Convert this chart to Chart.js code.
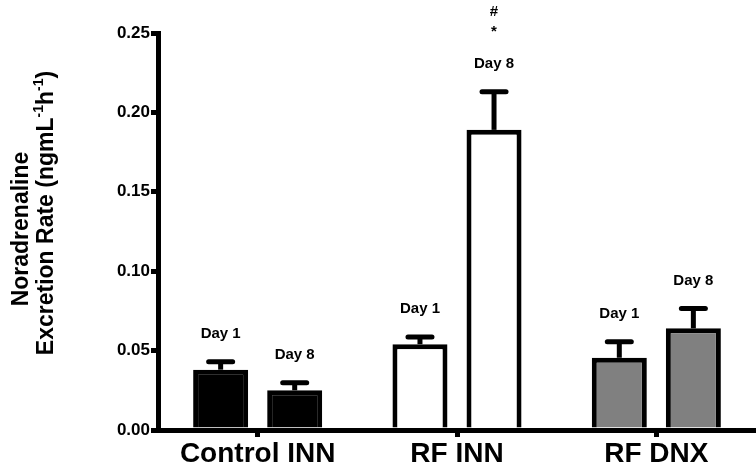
<!DOCTYPE html>
<html>
<head>
<meta charset="utf-8">
<script src="https://cdn.jsdelivr.net/npm/chart.js@4"></script>
<style>
  html, body { margin: 0; padding: 0; background: #fff; }
  #wrap { width: 756px; height: 473px; position: relative; }
</style>
</head>
<body>
<div id="wrap"><canvas id="noraChart"></canvas></div>
<script>
const groups = ['Control INN', 'RF INN', 'RF DNX'];
const day1Values = [0.038, 0.054, 0.0455];
const day1Errors = [0.005, 0.0045, 0.010];
const day8Values = [0.025, 0.189, 0.064];
const day8Errors = [0.0047, 0.024, 0.0125];
const groupColors = ['#000000', '#ffffff', '#808080'];
const day8Marks = [[], ['#', '*'], []];
const yTicks = [0, 0.05, 0.10, 0.15, 0.20, 0.25];

const FONT = '"Liberation Sans", Arial, Helvetica, sans-serif';

// error bars + "Day n" labels + significance marks
const errorBarPlugin = {
  id: 'errorBars',
  afterDatasetsDraw(chart) {
    const ctx = chart.ctx;
    const y = chart.scales.y;
    const errs = [day1Errors, day8Errors];
    const names = ['Day 1', 'Day 8'];
    ctx.save();
    chart.data.datasets.forEach((ds, di) => {
      const meta = chart.getDatasetMeta(di);
      meta.data.forEach((bar, i) => {
        const top = y.getPixelForValue(ds.data[i]);
        const capY = y.getPixelForValue(ds.data[i] + errs[di][i]);
        ctx.strokeStyle = '#000';
        ctx.lineWidth = 5;
        ctx.lineCap = 'butt';
        ctx.beginPath();
        ctx.moveTo(bar.x, top);
        ctx.lineTo(bar.x, capY);
        ctx.stroke();
        ctx.lineCap = 'round';
        ctx.beginPath();
        ctx.moveTo(bar.x - 12, capY);
        ctx.lineTo(bar.x + 12, capY);
        ctx.stroke();

        const labelY = capY - 28;
        ctx.fillStyle = '#000';
        ctx.font = 'bold 15px ' + FONT;
        ctx.textAlign = 'center';
        ctx.textBaseline = 'middle';
        ctx.fillText(names[di], bar.x, labelY);

        if (di === 1) {
          const marks = day8Marks[i];
          marks.forEach((m, k) => {
            ctx.fillText(m, bar.x, labelY - 32 - (marks.length - 1 - k) * 20);
          });
        }
      });
    });
    ctx.restore();
  }
};

// rotated two-line axis title with superscripts
const yTitlePlugin = {
  id: 'yTitle',
  afterDraw(chart) {
    const ctx = chart.ctx;
    const lines = [
      { x: 22, y: 229, parts: [{ t: 'Noradrenaline' }] },
      { x: 47, y: 213, parts: [
        { t: 'Excretion Rate (ngmL' }, { t: '-1', sup: true },
        { t: 'h' }, { t: '-1', sup: true }, { t: ')' }
      ] }
    ];
    ctx.save();
    ctx.fillStyle = '#000';
    ctx.textBaseline = 'middle';
    ctx.textAlign = 'left';
    lines.forEach(line => {
      let total = 0;
      line.parts.forEach(p => {
        ctx.font = (p.sup ? 'bold 14px ' : 'bold 23px ') + FONT;
        p.w = ctx.measureText(p.t).width;
        total += p.w;
      });
      ctx.save();
      ctx.translate(line.x, line.y);
      ctx.rotate(-Math.PI / 2);
      let cx = -total / 2;
      line.parts.forEach(p => {
        ctx.font = (p.sup ? 'bold 14px ' : 'bold 23px ') + FONT;
        ctx.fillText(p.t, cx, p.sup ? -8 : 0);
        cx += p.w;
      });
      ctx.restore();
    });
    ctx.restore();
  }
};

const ctx = document.getElementById('noraChart').getContext('2d');
new Chart(ctx, {
  type: 'bar',
  data: {
    labels: groups,
    datasets: [
      {
        label: 'Day 1',
        data: day1Values,
        backgroundColor: groupColors,
        borderColor: '#000',
        borderWidth: 5
      },
      {
        label: 'Day 8',
        data: day8Values,
        backgroundColor: groupColors,
        borderColor: '#000',
        borderWidth: 5
      }
    ]
  },
  options: {
    responsive: true,
    maintainAspectRatio: false,
    animation: false,
    categoryPercentage: 0.743,
    barPercentage: 0.743,
    layout: { padding: { top: 33, right: 0, left: 0, bottom: 0 } },
    plugins: {
      legend: { display: false },
      tooltip: { enabled: false }
    },
    scales: {
      x: {
        grid: {
          offset: false,
          drawOnChartArea: false,
          color: '#000',
          lineWidth: 5,
          tickLength: 7
        },
        border: { color: '#000', width: 5 },
        ticks: {
          color: '#000',
          font: { family: FONT, size: 28, weight: 'bold' },
          padding: 0
        },
        afterFit(scale) { scale.height = 43; }
      },
      y: {
        min: 0,
        max: 0.25,
        afterBuildTicks(scale) {
          scale.ticks = yTicks.map(v => ({ value: v }));
        },
        grid: {
          drawOnChartArea: false,
          color: '#000',
          lineWidth: 5,
          tickLength: 7
        },
        border: { color: '#000', width: 5 },
        ticks: {
          color: '#000',
          font: { family: FONT, size: 17, weight: 'bold' },
          padding: 1,
          callback: v => v.toFixed(2)
        },
        afterFit(scale) { scale.width = 158; }
      }
    }
  },
  plugins: [errorBarPlugin, yTitlePlugin]
});
</script>
</body>
</html>
